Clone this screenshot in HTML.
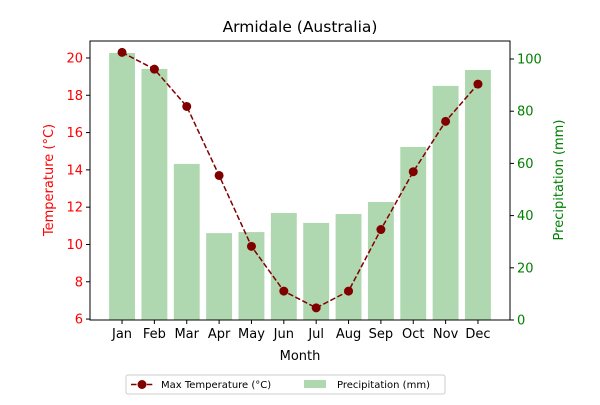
<!DOCTYPE html>
<html><head><meta charset="utf-8"><style>
body{margin:0;background:#fff;font-family:"Liberation Sans","DejaVu Sans",sans-serif}
svg text{font-family:"DejaVu Sans","Liberation Sans",sans-serif}
</style></head><body>
<svg id="c" width="600" height="400"></svg>
<script>
const months=["Jan","Feb","Mar","Apr","May","Jun","Jul","Aug","Sep","Oct","Nov","Dec"];
const maxTemp=[20.3,19.4,17.4,13.7,9.9,7.5,6.6,7.5,10.8,13.9,16.6,18.6];
const precip=[102.3,96.2,59.8,33.3,33.7,41.0,37.2,40.6,45.2,66.3,89.7,95.8];
const tempTicks=[6,8,10,12,14,16,18,20];
const precipTicks=[0,20,40,60,80,100];
const NS="http://www.w3.org/2000/svg";
const svg=document.getElementById('c');
const L=90,R=510,T=41,B=320;
const x=i=>L+(i+0.99)/12.98*(R-L);
const yT=v=>B-(v-5.95)/(20.91-5.95)*(B-T);
const yP=v=>B-v/106.9*(B-T);
function mk(tag,a,txt){const e=document.createElementNS(NS,tag);for(const k in a)e.setAttribute(k,a[k]);if(txt!==undefined)e.textContent=txt;svg.appendChild(e);return e;}
const bw=0.8*(x(1)-x(0));
precip.forEach((v,i)=>{const r=mk('rect',{x:x(i)-bw/2,y:yP(v),width:bw,height:B-yP(v),fill:'#b0d8b0'});

});
let d=maxTemp.map((v,i)=>(i?'L':'M')+x(i)+','+yT(v)).join(' ');
const ln=mk('path',{d:d,fill:'none',stroke:'#800000','stroke-width':1.5,'stroke-dasharray':'5.5,2.4'});


maxTemp.forEach((v,i)=>{const c=mk('circle',{cx:x(i),cy:yT(v),r:4.5,fill:'#800000'});

});
mk('rect',{x:L,y:T,width:R-L,height:B-T,fill:'none',stroke:'#000','stroke-width':1});
months.forEach((m,i)=>{mk('line',{x1:x(i),x2:x(i),y1:B,y2:B+4,stroke:'#000'});
const t=mk('text',{x:x(i),y:B+18,'text-anchor':'middle','font-size':13},m);

});
tempTicks.forEach(v=>{mk('line',{x1:L-4,x2:L,y1:yT(v),y2:yT(v),stroke:'#000'});
const t=mk('text',{x:L-7,y:yT(v)+4.5,'text-anchor':'end','font-size':13,fill:'red'},v);

});
precipTicks.forEach(v=>{mk('line',{x1:R,x2:R+4,y1:yP(v),y2:yP(v),stroke:'#000'});
const t=mk('text',{x:R+7,y:yP(v)+4.5,'font-size':13,fill:'green'},v);

});
let t;
t=mk('text',{x:300,y:32,'text-anchor':'middle','font-size':15.5},'Armidale (Australia)');

t=mk('text',{x:300,y:360,'text-anchor':'middle','font-size':13},'Month');

t=mk('text',{x:53,y:180,'text-anchor':'middle','font-size':13,fill:'red',transform:'rotate(-90 53 180)'},'Temperature (°C)');

t=mk('text',{x:563,y:180,'text-anchor':'middle','font-size':13,fill:'green',transform:'rotate(-90 563 180)'},'Precipitation (mm)');

const lg=mk('rect',{x:126,y:375,width:319,height:19,fill:'#fff',stroke:'#ccc',rx:2});

mk('line',{x1:131,x2:153,y1:384.5,y2:384.5,stroke:'#800000','stroke-width':1.5,'stroke-dasharray':'5.5,2.4'});
mk('circle',{cx:142,cy:384.5,r:4.5,fill:'#800000'});
t=mk('text',{x:161,y:388,'font-size':10},'Max Temperature (°C)');

mk('rect',{x:304,y:380,width:22,height:8,fill:'#b0d8b0'});
t=mk('text',{x:337,y:388,'font-size':10},'Precipitation (mm)');

</script>
</body></html>
